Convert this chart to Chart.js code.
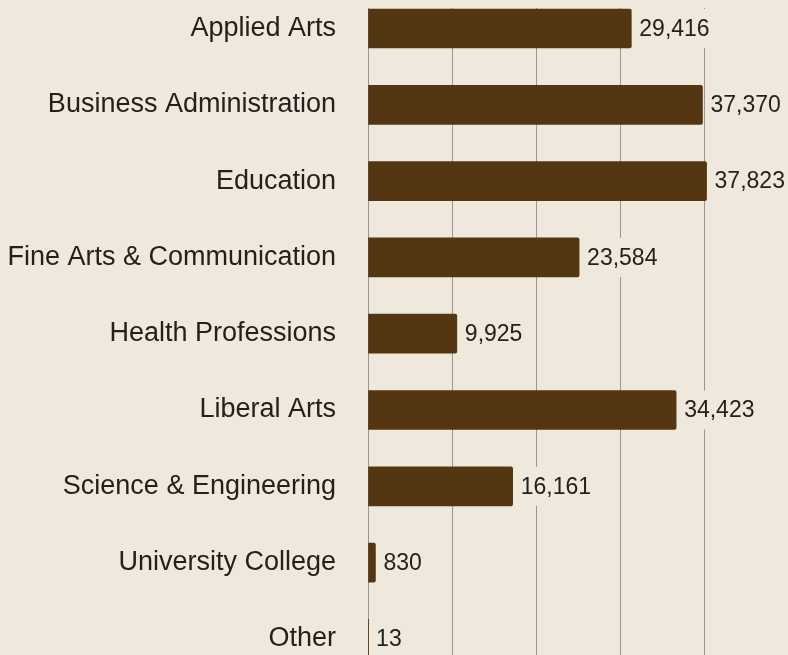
<!DOCTYPE html>
<html>
<head>
<meta charset="utf-8">
<script src="https://cdn.jsdelivr.net/npm/chart.js@4/dist/chart.umd.min.js"></script>
<style>
  html, body { margin: 0; padding: 0; background: #efe9dd; }
  #wrap { width: 788px; height: 655px; }
</style>
</head>
<body>
<div id="wrap"><canvas id="c" width="788" height="655"></canvas></div>
<script>
const categories = [
  'Applied Arts',
  'Business Administration',
  'Education',
  'Fine Arts & Communication',
  'Health Professions',
  'Liberal Arts',
  'Science & Engineering',
  'University College',
  'Other'
];
const enrollment = [29416, 37370, 37823, 23584, 9925, 34423, 16161, 830, 13];
const gridStep = 9450;

const BG = '#efe9dd';
const BAR = '#553613';
const TEXT = '#25201c';

const points = categories.map((c, i) => ({ x: enrollment[i], y: i }));

const valueLabels = {
  id: 'valueLabels',
  afterDatasetsDraw(chart) {
    const ctx = chart.ctx;
    const meta = chart.getDatasetMeta(0);
    ctx.save();
    ctx.font = '23px "Liberation Sans", Arial, sans-serif';
    ctx.textBaseline = 'middle';
    ctx.textAlign = 'left';
    meta.data.forEach((bar, i) => {
      const txt = enrollment[i].toLocaleString('en-US');
      const w = ctx.measureText(txt).width;
      const h = bar.height;
      const x = bar.x + 8;
      ctx.fillStyle = BG;
      ctx.fillRect(x - 3, bar.y - h / 2, w + 6, h);
      ctx.fillStyle = TEXT;
      ctx.fillText(txt, x, bar.y + 1);
    });
    ctx.restore();
  }
};

new Chart(document.getElementById('c'), {
  type: 'bar',
  data: {
    datasets: [{
      data: points,
      backgroundColor: BAR,
      borderRadius: 2,
      borderSkipped: 'start',
      barThickness: 39
    }]
  },
  options: {
    indexAxis: 'y',
    responsive: false,
    animation: false,
    layout: { padding: { top: 8, left: 0, right: 0, bottom: 0 } },
    plugins: { legend: { display: false }, tooltip: { enabled: false } },
    scales: {
      x: {
        type: 'linear',
        position: 'top',
        min: 0,
        max: 46920,
        ticks: { display: false, stepSize: gridStep, includeBounds: false },
        grid: { color: '#9b958d', lineWidth: 1, drawTicks: false },
        border: { display: false },
        afterFit(scale) {
          scale.height = 0;
          scale.paddingLeft = 0; scale.paddingRight = 0;
          scale.paddingTop = 0; scale.paddingBottom = 0;
        }
      },
      y: {
        type: 'linear',
        reverse: true,
        offset: false,
        min: -0.2687,
        max: 8.211,
        grid: { display: false, drawTicks: false, offset: false },
        border: { display: false },
        ticks: {
          stepSize: 1,
          includeBounds: false,
          autoSkip: false,
          padding: 32,
          color: TEXT,
          font: { family: '"Liberation Sans", Arial, sans-serif', size: 27 },
          callback(v) {
            const r = Math.round(v);
            return Math.abs(v - r) < 1e-6 && categories[r] ? categories[r] : '';
          }
        },
        afterFit(scale) {
          scale.width = 368;
          scale.paddingLeft = 0; scale.paddingRight = 0;
          scale.paddingTop = 0; scale.paddingBottom = 0;
        }
      }
    }
  },
  plugins: [valueLabels]
});
</script>
</body>
</html>
